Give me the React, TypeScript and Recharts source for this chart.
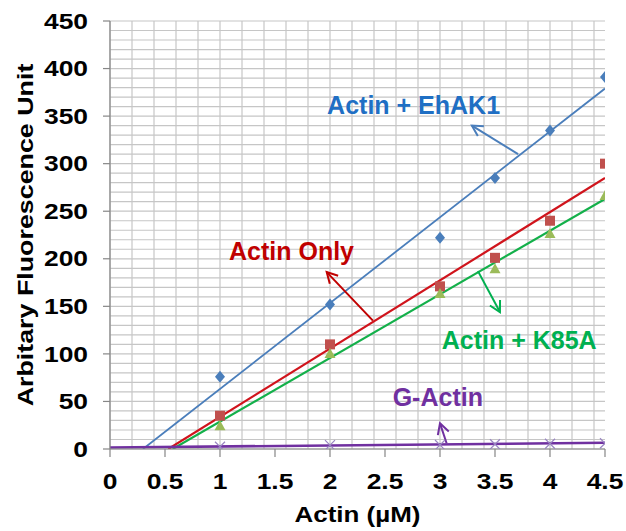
import React from "react";
import {
  ComposedChart,
  XAxis,
  YAxis,
  CartesianGrid,
  Scatter,
  Line,
  ReferenceLine,
  ReferenceDot,
  Label,
} from "recharts";

const X_TICKS = [0, 0.5, 1, 1.5, 2, 2.5, 3, 3.5, 4, 4.5];
const Y_TICKS = [0, 50, 100, 150, 200, 250, 300, 350, 400, 450];
const GRID_X = Array.from({ length: 23 }, (_, i) => +(i * 0.2).toFixed(1));
const GRID_Y = Array.from({ length: 46 }, (_, i) => i * 10);

const CONC = [1, 2, 3, 3.5, 4, 4.5];
const EHAK1 = [76, 152, 222, 285, 335, 391];
const ACTIN_ONLY = [35, 110, 171, 201, 240, 300];
const K85A = [24, 100, 163, 189, 226, 266];
const G_ACTIN = [2.4, 4, 4.2, 5, 5.5, 6];

// trendline end points
const EHAK1_FIT = [
  { x: 0.3, y: 0 },
  { x: 4.5, y: 379 },
];
const ONLY_FIT = [
  { x: 0.53, y: 0 },
  { x: 4.5, y: 285 },
];
const K85A_FIT = [
  { x: 0.57, y: 0 },
  { x: 4.5, y: 263 },
];
const GACTIN_FIT = [
  { x: 0, y: 1.5 },
  { x: 4.5, y: 6.5 },
];

const LABELS = [
  { text: "Actin + EhAK1", x: 2.76, y: 362, color: "#1F6FC4" },
  { text: "Actin Only", x: 1.65, y: 208, color: "#C00000" },
  { text: "Actin + K85A", x: 3.72, y: 115, color: "#00B050" },
  { text: "G-Actin", x: 2.98, y: 55, color: "#7030A0" },
];

const ARROWS = [
  { from: { x: 3.71, y: 310 }, to: { x: 3.29, y: 340 }, color: "#4A7EBB" },
  { from: { x: 2.39, y: 135 }, to: { x: 1.97, y: 186 }, color: "#C00000" },
  { from: { x: 3.345, y: 187 }, to: { x: 3.545, y: 144 }, color: "#00B050" },
  { from: { x: 3.06, y: 6 }, to: { x: 3.0, y: 27 }, color: "#7030A0" },
];

const toPoints = (ys: number[]) => CONC.map((x, i) => ({ x, y: ys[i] }));

const FONT = "'Liberation Sans', Arial, sans-serif";
const AXIS = "#868686";

// grid is finer than the labelled ticks, so map grid values through the axis scale
const applyScale = (axis: any, v: number) => {
  const s = axis?.scale;
  if (!s) return NaN;
  if (typeof s === "function") return s(v);
  if (typeof s.map === "function") return s.map(v);
  return NaN;
};

const verticalGen = ({ xAxis }: any) =>
  GRID_X.map((v) => applyScale(xAxis, v)).filter((n) => Number.isFinite(n));
const horizontalGen = ({ yAxis }: any) =>
  GRID_Y.map((v) => applyScale(yAxis, v)).filter((n) => Number.isFinite(n));

const Diamond = (p: any) => {
  const { cx, cy } = p;
  return (
    <path
      d={`M${cx},${cy - 6}L${cx + 5},${cy}L${cx},${cy + 6}L${cx - 5},${cy}Z`}
      fill="#4A7EBB"
    />
  );
};

const Square = (p: any) => (
  <rect x={p.cx - 5} y={p.cy - 5} width={10} height={10} fill="#C0504D" />
);

const Triangle = (p: any) => {
  const { cx, cy } = p;
  return (
    <path
      d={`M${cx},${cy - 6}L${cx + 5.5},${cy + 4}L${cx - 5.5},${cy + 4}Z`}
      fill="#9BBB59"
    />
  );
};

const Cross = (p: any) => {
  const { cx, cy } = p;
  return (
    <path
      d={`M${cx - 5},${cy - 5}L${cx + 5},${cy + 5}M${cx - 5},${cy + 5}L${cx + 5},${cy - 5}`}
      stroke="#9A86C2"
      strokeWidth={1.2}
    />
  );
};

const makeArrow = (color: string) => (p: any) => {
  const { x1, y1, x2, y2 } = p;
  const a = Math.atan2(y2 - y1, x2 - x1);
  const L = 12;
  const w = 0.5;
  const ax = x2 - L * Math.cos(a - w);
  const ay = y2 - L * Math.sin(a - w);
  const bx = x2 - L * Math.cos(a + w);
  const by = y2 - L * Math.sin(a + w);
  return (
    <g>
      <line x1={x1} y1={y1} x2={x2} y2={y2} stroke={color} strokeWidth={2} />
      <polyline
        points={`${ax},${ay} ${x2},${y2} ${bx},${by}`}
        fill="none"
        stroke={color}
        strokeWidth={2}
      />
    </g>
  );
};

const makeText = (text: string, color: string) => (p: any) => (
  <text
    x={p.cx}
    y={p.cy}
    textAnchor="middle"
    dominantBaseline="central"
    fill={color}
    fontFamily={FONT}
    fontWeight="bold"
    fontSize={25}
  >
    {text}
  </text>
);

const XTick = (p: any) => (
  <g transform={`translate(${p.x},${p.y + 24}) scale(1.2,1)`}>
    <text
      x={0}
      y={0}
      textAnchor="middle"
      dominantBaseline="central"
      fill="#000"
      fontFamily={FONT}
      fontWeight="bold"
      fontSize={22}
    >
      {p.payload.value}
    </text>
  </g>
);

const YTick = (p: any) => (
  <g transform={`translate(${p.x},${p.y}) scale(1.2,1)`}>
    <text
      x={0}
      y={0}
      textAnchor="end"
      dominantBaseline="central"
      fill="#000"
      fontFamily={FONT}
      fontWeight="bold"
      fontSize={22}
    >
      {p.payload.value}
    </text>
  </g>
);

const XTitle = (p: any) => {
  const vb = p.viewBox;
  return (
    <g transform={`translate(${vb.x + vb.width / 2},${vb.y + 65}) scale(1.18,1)`}>
      <text
        x={0}
        y={0}
        textAnchor="middle"
        dominantBaseline="central"
        fill="#000"
        fontFamily={FONT}
        fontWeight="bold"
        fontSize={22}
      >
        Actin (µM)
      </text>
    </g>
  );
};

const YTitle = (p: any) => {
  const vb = p.viewBox;
  return (
    <g
      transform={`translate(${vb.x + 25},${vb.y + vb.height / 2}) rotate(-90) scale(1.22,1)`}
    >
      <text
        x={0}
        y={0}
        textAnchor="middle"
        dominantBaseline="central"
        fill="#000"
        fontFamily={FONT}
        fontWeight="bold"
        fontSize={22}
      >
        Arbitary Fluorescence Unit
      </text>
    </g>
  );
};

export default function App() {
  return (
    <div style={{ position: "absolute", left: 0, top: 0, background: "#fff" }}>
      <ComposedChart
        width={626}
        height={531}
        margin={{ top: 21, right: 21, left: 0, bottom: 0 }}
      >
        <CartesianGrid
          stroke="#C6C6C6"
          strokeWidth={1.2}
          verticalCoordinatesGenerator={verticalGen}
          horizontalCoordinatesGenerator={horizontalGen}
        />
        <XAxis
          type="number"
          dataKey="x"
          domain={[0, 4.5]}
          ticks={X_TICKS}
          height={82}
          tickSize={8}
          tickMargin={0}
          tick={<XTick />}
          axisLine={{ stroke: AXIS, strokeWidth: 1.2 }}
          tickLine={{ stroke: AXIS, strokeWidth: 1.2 }}
          allowDataOverflow
        >
          <Label content={<XTitle />} />
        </XAxis>
        <YAxis
          type="number"
          dataKey="y"
          domain={[0, 450]}
          ticks={Y_TICKS}
          width={110}
          tickSize={7}
          tickMargin={15}
          tick={<YTick />}
          axisLine={{ stroke: AXIS, strokeWidth: 1.2 }}
          tickLine={{ stroke: AXIS, strokeWidth: 1.2 }}
          allowDataOverflow
        >
          <Label content={<YTitle />} />
        </YAxis>

        <Line data={EHAK1_FIT} dataKey="y" stroke="#4A7EBB" strokeWidth={1.8} dot={false} isAnimationActive={false} />
        <Line data={ONLY_FIT} dataKey="y" stroke="#D0141C" strokeWidth={2.2} dot={false} isAnimationActive={false} />
        <Line data={K85A_FIT} dataKey="y" stroke="#13B04A" strokeWidth={2.2} dot={false} isAnimationActive={false} />
        <Line data={GACTIN_FIT} dataKey="y" stroke="#7030A0" strokeWidth={2.6} dot={false} isAnimationActive={false} />

        <Scatter data={toPoints(EHAK1)} shape={<Diamond />} isAnimationActive={false} />
        <Scatter data={toPoints(ACTIN_ONLY)} shape={<Square />} isAnimationActive={false} />
        <Scatter data={toPoints(K85A)} shape={<Triangle />} isAnimationActive={false} />
        <Scatter data={toPoints(G_ACTIN)} shape={<Cross />} isAnimationActive={false} />

        {ARROWS.map((a, i) => (
          <ReferenceLine
            key={`arrow-${i}`}
            segment={[a.from, a.to]}
            ifOverflow="visible"
            shape={makeArrow(a.color)}
          />
        ))}
        {LABELS.map((l) => (
          <ReferenceDot
            key={l.text}
            x={l.x}
            y={l.y}
            r={0}
            ifOverflow="visible"
            shape={makeText(l.text, l.color)}
          />
        ))}
      </ComposedChart>
    </div>
  );
}
